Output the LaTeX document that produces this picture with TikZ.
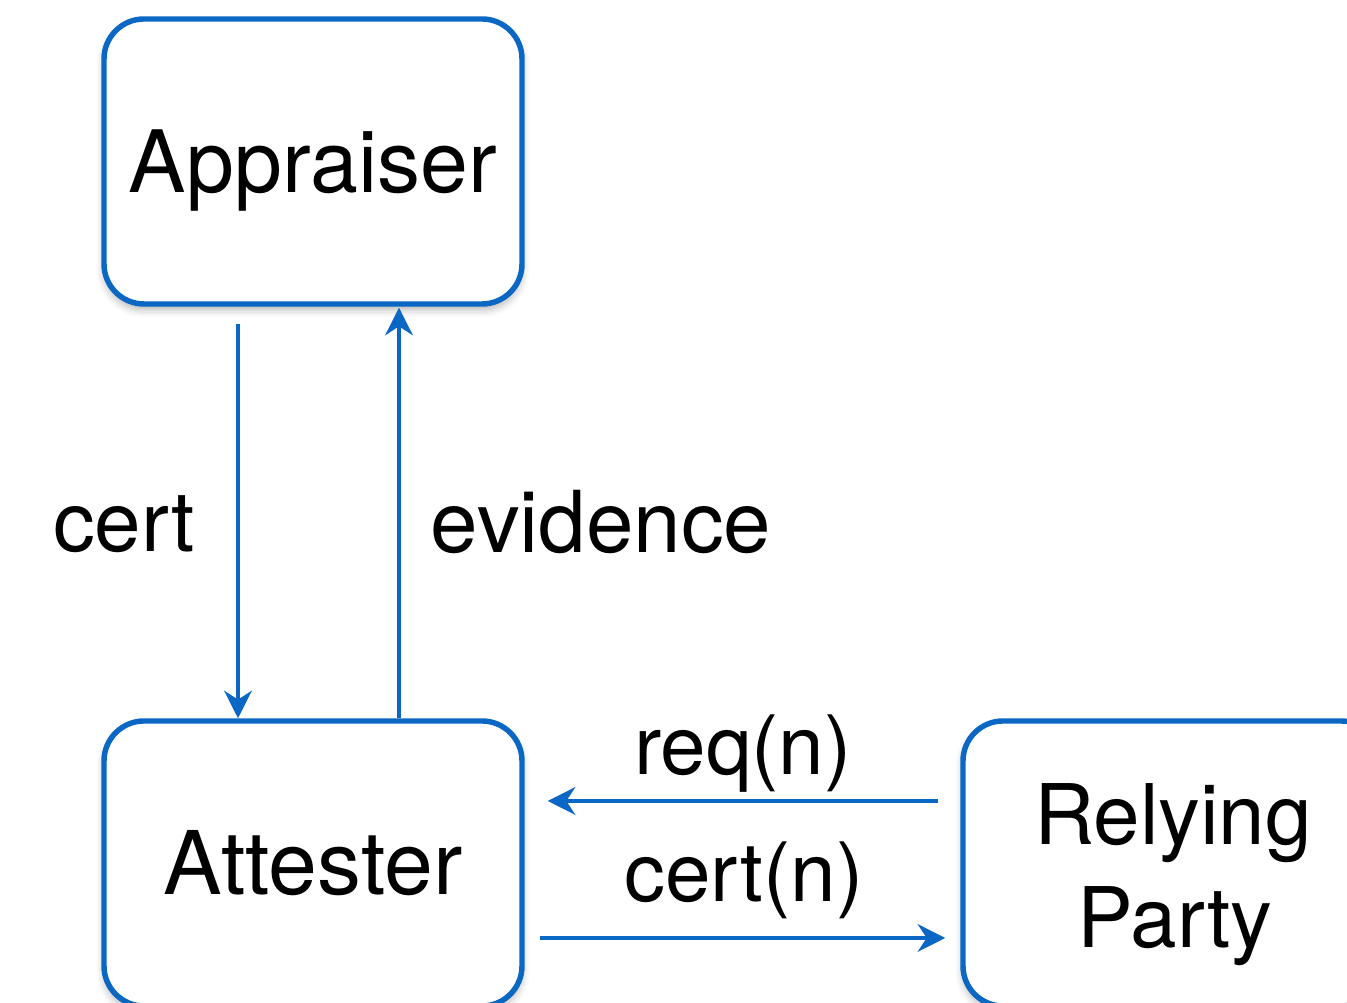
\documentclass[tikz,border=0pt]{standalone}
\usepackage{fontspec}
\setmainfont{TeX Gyre Heros}
\usetikzlibrary{arrows.meta,shadows.blur}
\definecolor{flowblue}{HTML}{0A67C4}
\tikzset{
  party/.style={draw=flowblue, line width=1.55pt, rounded corners=0.4cm,
    fill=white, minimum width=4.18cm, minimum height=2.85cm, inner sep=0pt,
    blur shadow={shadow xshift=0pt, shadow yshift=-1.6pt,
                 shadow blur radius=2.2pt, shadow opacity=30}},
  msg/.style={draw=flowblue, line width=1.3pt,
    -{Stealth[length=7.8pt, width=7.8pt, inset=2.5pt]}},
  bigtxt/.style={inner sep=0pt, anchor=base, font=\fontsize{24.5pt}{29pt}\selectfont},
  midtxt/.style={inner sep=0pt, anchor=base, font=\fontsize{23.8pt}{28pt}\selectfont},
  smltxt/.style={inner sep=0pt, anchor=base, font=\fontsize{23.3pt}{27pt}\selectfont}
}
\begin{document}
\begin{tikzpicture}
  \useasboundingbox (0,0) rectangle (13.47,-10.03);

  % the three parties
  \node[party] (appr) at (3.13,-1.615) {};
  \node[party] (att)  at (3.13,-8.635) {};
  \node[party] (rp)   at (11.72,-8.635) {};

  \node[bigtxt] (apprlbl) at (3.13,-1.93) {Appraiser};
  \node[bigtxt, font=\fontsize{25pt}{29pt}\selectfont] (attlbl) at (3.13,-8.95) {Attester};
  \node[midtxt] (rplbl1)  at (11.73,-8.45) {Relying};
  \node[midtxt] (rplbl2)  at (11.75,-9.48) {Party};

  % appraiser <-> attester
  \draw[msg] ([shift={(-0.75,-0.17)}]appr.south) -- ([xshift=-0.75cm]att.north);
  \draw[msg] ([xshift=0.86cm]att.north) -- ([shift={(0.86,-0.01)}]appr.south);
  \node[midtxt] (certlbl) at (1.24,-5.52) {cert};
  \node[midtxt, font=\fontsize{24.3pt}{28pt}\selectfont] (evilbl) at (6.01,-5.53) {evidence};

  % attester <-> relying party
  \draw[msg] ([shift={(-0.22,0.625)}]rp.west) -- ([shift={(0.23,0.625)}]att.east);
  \draw[msg] ([shift={(0.15,-0.745)}]att.east) -- ([shift={(-0.15,-0.745)}]rp.west);
  \node[smltxt] (reqlbl)   at (7.43,-7.75) {req(n)};
  \node[smltxt] (certnlbl) at (7.44,-9.02) {cert(n)};
\end{tikzpicture}
\end{document}
